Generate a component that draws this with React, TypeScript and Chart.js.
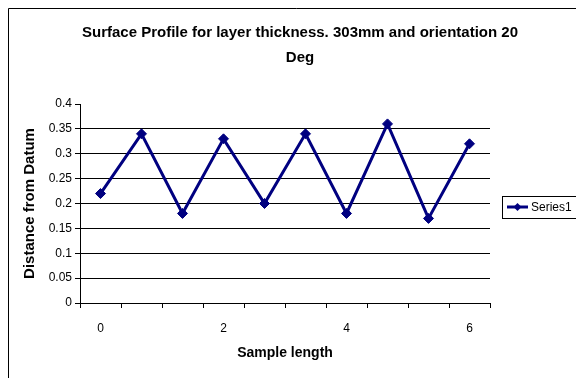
import { useEffect, useRef } from 'react';
import { Chart, registerables } from 'chart.js';

Chart.register(...registerables);

const titleLines = ['Surface Profile for layer thickness. 303mm and orientation 20', 'Deg'];
const xAxisTitle = 'Sample length';
const yAxisTitle = 'Distance from Datum';
const seriesName = 'Series1';
const sampleLength = ['0', '0.666667', '1.333333', '2', '2.666667', '3.333333', '4', '4.666667', '5.333333', '6'];
const xTickLabels = ['0', '', '', '2', '', '', '4', '', '', '6'];
const series1 = [0.22, 0.34, 0.18, 0.33, 0.2, 0.34, 0.18, 0.36, 0.17, 0.32];
const yMin = 0;
const yMax = 0.4;
const yStep = 0.05;

const FONT = '"Liberation Sans", Arial, sans-serif';
const NAVY = '#000080';

const framePlugin = {
  id: 'frame',
  beforeDraw(chart: any) {
    const { ctx, width, height } = chart;
    ctx.save();
    ctx.fillStyle = '#ffffff';
    ctx.fillRect(0, 0, width, height);
    ctx.strokeStyle = '#000000';
    ctx.lineWidth = 1;
    ctx.beginPath();
    ctx.moveTo(0.5, height);
    ctx.lineTo(0.5, 0.5);
    ctx.lineTo(width, 0.5);
    ctx.stroke();
    ctx.restore();
  },
  afterDraw(chart: any) {
    const { ctx } = chart;
    // title
    ctx.save();
    ctx.fillStyle = '#000000';
    ctx.font = `bold 15px ${FONT}`;
    ctx.textAlign = 'center';
    ctx.textBaseline = 'middle';
    titleLines.forEach((t, i) => ctx.fillText(t, 292, 25 + i * 25));
    ctx.restore();

    // legend
    const ds = chart.data.datasets[0];
    const bx = 494, by = 188, bw = 76, bh = 22;
    ctx.save();
    ctx.fillStyle = '#ffffff';
    ctx.fillRect(bx, by, bw, bh);
    ctx.strokeStyle = '#000000';
    ctx.lineWidth = 1;
    ctx.strokeRect(bx + 0.5, by + 0.5, bw, bh);
    const cy = by + bh / 2;
    ctx.strokeStyle = NAVY;
    ctx.lineWidth = 3;
    ctx.beginPath();
    ctx.moveTo(bx + 5, cy);
    ctx.lineTo(bx + 26, cy);
    ctx.stroke();
    ctx.fillStyle = NAVY;
    ctx.beginPath();
    ctx.moveTo(bx + 15.5 - 4, cy);
    ctx.lineTo(bx + 15.5, cy - 4);
    ctx.lineTo(bx + 15.5 + 4, cy);
    ctx.lineTo(bx + 15.5, cy + 4);
    ctx.closePath();
    ctx.fill();
    ctx.fillStyle = '#000000';
    ctx.font = `12px ${FONT}`;
    ctx.textBaseline = 'middle';
    ctx.textAlign = 'left';
    ctx.fillText(ds.label, bx + 29, cy + 1);
    ctx.restore();
  },
};

export default function App() {
  const ref = useRef<HTMLCanvasElement | null>(null);

  useEffect(() => {
    if (!ref.current) return;
    const chart = new Chart(ref.current, {
      type: 'line',
      data: {
        labels: sampleLength,
        datasets: [
          {
            label: seriesName,
            data: series1,
            borderColor: NAVY,
            backgroundColor: NAVY,
            borderWidth: 3,
            pointStyle: 'rectRot',
            pointRadius: 5,
            pointBorderWidth: 1,
            pointBackgroundColor: NAVY,
            pointBorderColor: NAVY,
            tension: 0,
            fill: false,
          },
        ],
      },
      options: {
        responsive: false,
        animation: false,
        devicePixelRatio: 1,
        layout: { padding: { left: 0, right: 94, top: 96, bottom: 0 } },
        plugins: {
          legend: { display: false },
          tooltip: { enabled: false },
          title: { display: false },
        },
        scales: {
          x: {
            type: 'category',
            offset: true,
            afterFit(scale: any) {
              scale.height = 75;
            },
            grid: {
              offset: true,
              drawOnChartArea: false,
              drawTicks: true,
              tickLength: 5,
              tickColor: '#000000',
              color: '#000000',
            },
            border: { color: '#000000', width: 1 },
            ticks: {
              autoSkip: false,
              maxRotation: 0,
              padding: 13,
              color: '#000000',
              font: { family: FONT, size: 12 },
              callback: (_v: any, i: number) => xTickLabels[i],
            },
            title: {
              display: true,
              text: xAxisTitle,
              color: '#000000',
              font: { family: FONT, size: 14, weight: 'bold' },
              padding: { top: 0, bottom: 16 },
            },
          },
          y: {
            min: yMin,
            max: yMax,
            afterFit(scale: any) {
              scale.width = 72;
            },
            grid: {
              color: (c: any) => (c.tick && Math.abs(c.tick.value - yMax) < 1e-9 ? 'rgba(0,0,0,0)' : '#000000'),
              tickColor: '#000000',
              tickLength: 5,
              lineWidth: 1,
            },
            border: { color: '#000000', width: 1 },
            ticks: {
              stepSize: yStep,
              padding: 3,
              color: '#000000',
              font: { family: FONT, size: 12 },
              callback: (v: any) => String(parseFloat(Number(v).toFixed(2))),
            },
            title: {
              display: true,
              text: yAxisTitle,
              color: '#000000',
              font: { family: FONT, size: 15, weight: 'bold' },
              padding: { top: 13, bottom: 0 },
            },
          },
        },
      },
      plugins: [framePlugin],
    });
    return () => chart.destroy();
  }, []);

  return (
    <div style={{ width: 576, height: 370 }}>
      <canvas ref={ref} width={576} height={370} style={{ display: 'block', width: 576, height: 370 }} />
    </div>
  );
}
